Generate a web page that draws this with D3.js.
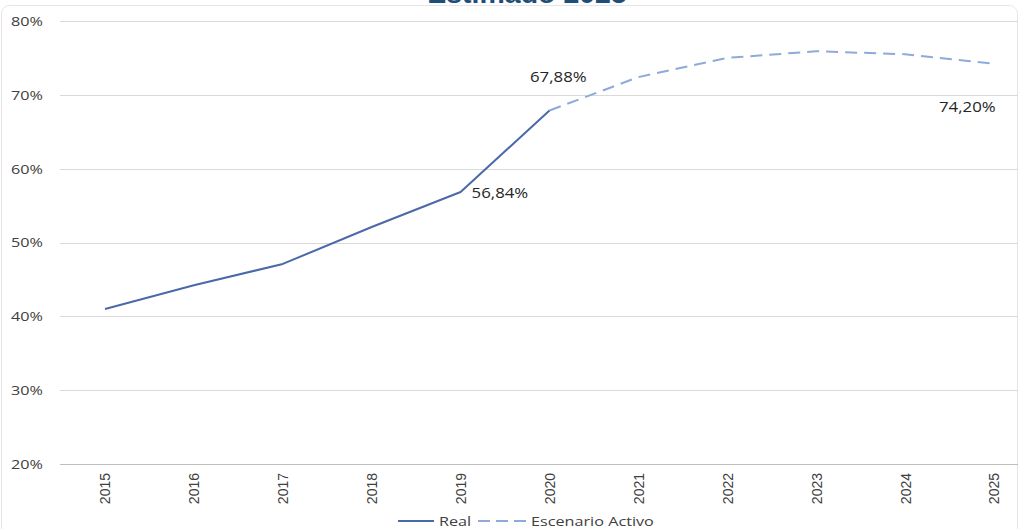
<!DOCTYPE html>
<html>
<head>
<meta charset="utf-8">
<script src="https://cdn.jsdelivr.net/npm/d3@7"></script>
<style>
  html, body { margin: 0; padding: 0; background: #fff; }
  svg { display: block; }
</style>
</head>
<body>
<svg id="chart" width="1022" height="529"></svg>
<script>
// Categories and series
const years = ["2015","2016","2017","2018","2019","2020","2021","2022","2023","2024","2025"];
const realYears = ["2015","2016","2017","2018","2019","2020"];
const realValues = [41.0, 44.2, 47.1, 52.1, 56.84, 67.88];
const scenarioYears = ["2020","2021","2022","2023","2024","2025"];
const scenarioValues = [67.88, 72.4, 75.0, 75.9, 75.5, 74.20];
const yTicks = [20, 30, 40, 50, 60, 70, 80];
const labelledPoints = [
  { series: "real", year: "2019", value: 56.84 },
  { series: "real", year: "2020", value: 67.88 },
  { series: "scenario", year: "2025", value: 74.20 }
];
const title = "Estimado 2025";
const legendNames = ["Real", "Escenario Activo"];

const svg = d3.select("#chart");
const left = 60, right = 1018;
const step = 88.9;
const wide = 1.2;          // horizontal stretch applied to the sans labels
const sans = "'Open Sans', 'Noto Sans', sans-serif";

const x = d3.scalePoint().domain(years).range([105, 105 + step * (years.length - 1)]);
const y = d3.scaleLinear().domain([20, 80]).range([464, 21]);

const fmt = v => d3.format(".2f")(v).replace(".", ",") + "%";

// place a horizontally widened text with its anchor at (px, py)
function wideText(parent, px, py, str, opts) {
  const g = parent.append("g").attr("transform", `translate(${px},${py}) scale(${wide},1)`);
  g.append("text")
    .attr("x", 0).attr("y", 0)
    .attr("text-anchor", opts.anchor || "start")
    .attr("dy", opts.dy || null)
    .attr("font-family", sans)
    .attr("font-size", opts.size)
    .attr("fill", opts.fill)
    .text(str);
  return g;
}

// chart frame
svg.append("rect")
  .attr("x", 1.5).attr("y", 5.5).attr("width", 1016).attr("height", 560)
  .attr("rx", 8).attr("fill", "#fff").attr("stroke", "#e6e6e6");

// title (its upper part sits above the frame)
svg.append("text")
  .attr("x", 527).attr("y", 3)
  .attr("text-anchor", "middle")
  .attr("font-family", "'Liberation Sans', Arial, sans-serif")
  .attr("font-weight", "bold")
  .attr("font-size", 28.5)
  .attr("fill", "#1f4e79")
  .text(title);

// horizontal gridlines
svg.append("g").selectAll("line").data(yTicks).join("line")
  .attr("x1", left).attr("x2", right)
  .attr("y1", d => Math.round(y(d)) + 0.5).attr("y2", d => Math.round(y(d)) + 0.5)
  .attr("stroke", d => d === 20 ? "#bfbfbf" : "#d9d9d9")
  .attr("stroke-width", 1);

// y axis labels
const gy = svg.append("g");
yTicks.forEach(t => wideText(gy, 43, y(t), t + "%", { anchor: "end", dy: "0.36em", size: 13.5, fill: "#404040" }));

// x axis labels, rotated
const xAxis = d3.axisBottom(x).tickSize(0).tickPadding(0);
const gx = svg.append("g").attr("transform", "translate(0,464)").call(xAxis);
gx.select(".domain").remove();
gx.selectAll("text")
  .attr("font-family", "'Liberation Sans Narrow', 'Liberation Sans', sans-serif")
  .attr("font-size", 14)
  .attr("fill", "#404040")
  .attr("transform", "rotate(-90)")
  .attr("text-anchor", "end")
  .attr("x", -9)
  .attr("y", 0)
  .attr("dy", "0.35em");

const line = d3.line().x(d => x(d[0])).y(d => y(d[1]));

// scenario (dashed)
svg.append("path")
  .datum(d3.zip(scenarioYears, scenarioValues))
  .attr("d", line)
  .attr("fill", "none")
  .attr("stroke", "#8eaadb")
  .attr("stroke-width", 2)
  .attr("stroke-dasharray", "12,7");

// real (solid)
svg.append("path")
  .datum(d3.zip(realYears, realValues))
  .attr("d", line)
  .attr("fill", "none")
  .attr("stroke", "#4a69a9")
  .attr("stroke-width", 2)
  .attr("stroke-linejoin", "round");

// data labels
const labelOffsets = { "2019": [11, 6], "2020": [-19.5, -28], "2025": [-55, 48] };
const gl = svg.append("g");
labelledPoints.forEach(d => {
  const o = labelOffsets[d.year];
  wideText(gl, x(d.year) + o[0], y(d.value) + o[1], fmt(d.value), { size: 14, fill: "#262626" });
});

// legend
const legend = svg.append("g").attr("transform", "translate(0,521)");
legend.append("line").attr("x1", 398).attr("x2", 434).attr("y1", 0).attr("y2", 0)
  .attr("stroke", "#4a69a9").attr("stroke-width", 2);
wideText(legend, 439, 0, legendNames[0], { dy: "0.35em", size: 13.5, fill: "#404040" });
legend.append("line").attr("x1", 478).attr("x2", 527).attr("y1", 0).attr("y2", 0)
  .attr("stroke", "#8eaadb").attr("stroke-width", 2).attr("stroke-dasharray", "12,6");
wideText(legend, 531, 0, legendNames[1], { dy: "0.35em", size: 13.5, fill: "#404040" });
</script>
</body>
</html>
